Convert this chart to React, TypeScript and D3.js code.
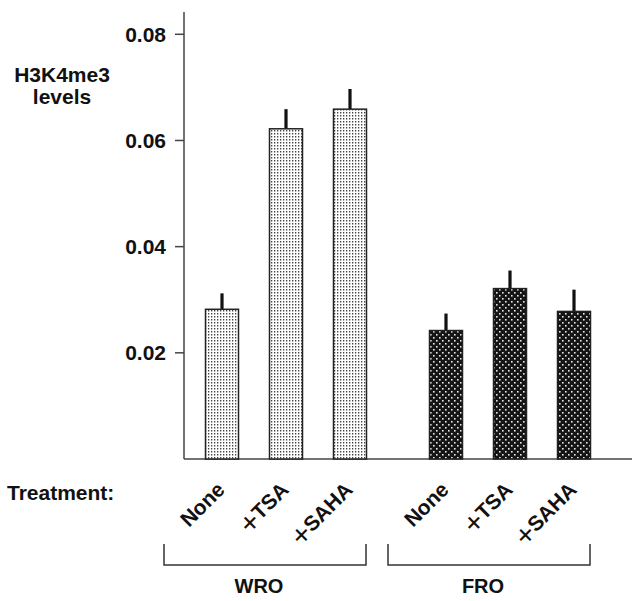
import React from 'react';
import * as d3 from 'd3';

const groups = ['WRO', 'FRO'];
const treatments = ['None', 'TSA', 'SAHA'];
const wroMeans = [0.0282, 0.0622, 0.0659];
const wroErrors = [0.0030, 0.0037, 0.0038];
const froMeans = [0.0242, 0.0321, 0.0278];
const froErrors = [0.0032, 0.0034, 0.0041];
const yTicks = [0.02, 0.04, 0.06, 0.08];

const W = 637;
const H = 601;
const FONT = '"Liberation Sans", Arial, Helvetica, sans-serif';

const rows = groups.flatMap((g, gi) =>
  treatments.map((t, ti) => ({
    group: g,
    gi,
    treatment: t,
    slot: gi * 3.5 + ti,
    mean: gi === 0 ? wroMeans[ti] : froMeans[ti],
    err: gi === 0 ? wroErrors[ti] : froErrors[ti],
  }))
);

export default function App() {
  const y = d3.scaleLinear().domain([0, 0.0842]).range([459, 12]);
  const x = d3.scaleLinear().domain([0, 1]).range([222, 286]);
  const barW = 33;
  const axisX = 184;

  return (
    <svg width={W} height={H} style={{ position: 'absolute', left: 0, top: 0 }} fontFamily={FONT} fontWeight="bold">
      <defs>
        <pattern id="light" width="3" height="3" patternUnits="userSpaceOnUse">
          <rect width="3" height="3" fill="#fff" />
          <rect x="1" y="1" width="1.3" height="1.5" fill="#444" />
        </pattern>
        <pattern id="dark" width="6" height="6" patternUnits="userSpaceOnUse">
          <rect width="6" height="6" fill="#151515" />
          <rect x="1" y="1" width="1.6" height="1.6" fill="#e8e8e8" />
          <rect x="4" y="4" width="1.6" height="1.6" fill="#e8e8e8" />
        </pattern>
      </defs>

      {/* y axis */}
      <line x1={axisX} x2={axisX} y1={y.range()[1]} y2={y(0)} stroke="#444" strokeWidth={1.5} />
      {yTicks.map(t => (
        <g key={t}>
          <line x1={axisX - 9} x2={axisX} y1={y(t)} y2={y(t)} stroke="#444" strokeWidth={1.5} />
          <text x={166} y={y(t)} dy="0.36em" textAnchor="end" fontSize={21} fill="#111">
            {d3.format('.2f')(t)}
          </text>
        </g>
      ))}
      <line x1={axisX} x2={632} y1={y(0)} y2={y(0)} stroke="#444" strokeWidth={1.5} />

      <text x={62} y={82} textAnchor="middle" fontSize={21} fill="#111">H3K4me3</text>
      <text x={62} y={104} textAnchor="middle" fontSize={21} fill="#111">levels</text>

      {/* bars */}
      {rows.map(r => {
        const cx = x(r.slot);
        return (
          <g key={r.group + r.treatment}>
            <line x1={cx} x2={cx} y1={y(r.mean)} y2={y(r.mean + r.err)} stroke="#111" strokeWidth={3.2} />
            <rect
              x={cx - barW / 2}
              y={y(r.mean)}
              width={barW}
              height={y(0) - y(r.mean)}
              fill={r.gi === 0 ? 'url(#light)' : 'url(#dark)'}
              stroke="#222"
              strokeWidth={1.5}
            />
          </g>
        );
      })}

      {/* treatment labels */}
      <text x={7} y={500} fontSize={21} fill="#111">Treatment:</text>
      {rows.map(r => {
        const px = x(r.slot) + 4;
        const py = 491;
        return (
          <text
            key={'l' + r.group + r.treatment}
            transform={`translate(${px},${py}) rotate(-45)`}
            textAnchor="end"
            fontSize={21}
            fill="#111"
          >
            {r.treatment === 'None' ? 'None' : (
              <>
                <tspan fontSize={30} fontWeight="normal" dy={4}>+</tspan>
                <tspan dx={0} dy={-4}>{r.treatment}</tspan>
              </>
            )}
          </text>
        );
      })}

      {/* group brackets */}
      {groups.map((g, gi) => {
        const left = x(gi * 3.5) - 58;
        const right = x(gi * 3.5 + 2) + 16;
        return (
          <g key={g}>
            <path
              d={`M${left},544 V565 H${right} V544`}
              fill="none"
              stroke="#333"
              strokeWidth={1.5}
            />
            <text x={(left + right) / 2 - 6} y={593} textAnchor="middle" fontSize={20} fill="#111">
              {g}
            </text>
          </g>
        );
      })}
    </svg>
  );
}
